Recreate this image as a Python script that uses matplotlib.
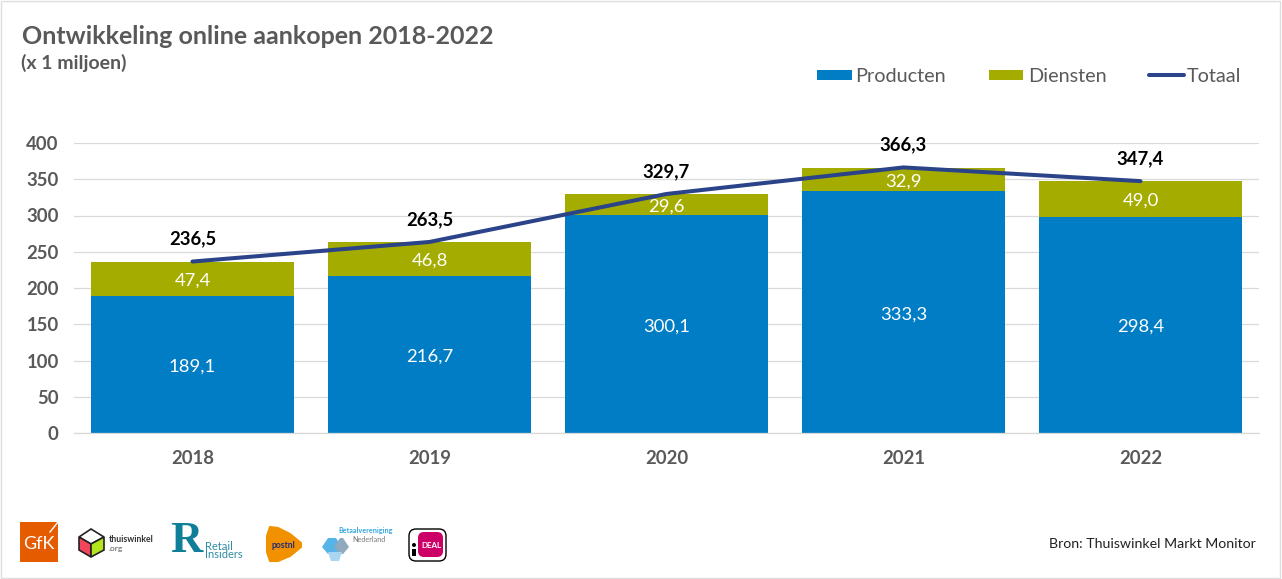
import numpy as np
import matplotlib
matplotlib.use("Agg")
import matplotlib.pyplot as plt
from matplotlib.patches import Rectangle, Polygon, FancyBboxPatch, Circle

plt.rcParams['font.family'] = ['Lato', 'DejaVu Sans']

# --- data ---
years = ['2018', '2019', '2020', '2021', '2022']
producten = [189.1, 216.7, 300.1, 333.3, 298.4]
diensten = [47.4, 46.8, 29.6, 32.9, 49.0]
totaal = [236.5, 263.5, 329.7, 366.3, 347.4]
y_ticks = [0, 50, 100, 150, 200, 250, 300, 350, 400]

W, H = 1282, 579
BLUE = '#007DC5'
GREEN = '#A5AC00'
NAVY = '#2B4388'
GREY = '#595959'


def fmt(v):
    return f'{v:.1f}'.replace('.', ',')


fig = plt.figure(figsize=(W / 100, H / 100), dpi=100, facecolor='white')

# overlay in pixel coordinates for title, legend, logos, frame
bg = fig.add_axes([0, 0, 1, 1])
bg.set_xlim(0, W)
bg.set_ylim(H, 0)
bg.axis('off')
bg.add_patch(Rectangle((0.5, 0.5), W - 2.5, H - 2, fc='none', ec='#DEDEDE', lw=1))

# --- main chart ---
ax = fig.add_axes([74 / W, 1 - 433 / H, (1259 - 74) / W, 290 / H])
x = np.arange(len(years))
bw = 0.857
ax.bar(x, producten, bw, color=BLUE, zorder=2)
ax.bar(x, diensten, bw, bottom=producten, color=GREEN, zorder=2)
ax.plot(x, totaal, color=NAVY, lw=2.9, solid_capstyle='round', solid_joinstyle='round', zorder=3)

for i in range(len(years)):
    ax.annotate(fmt(producten[i]), (x[i], producten[i] / 2), xytext=(0, -1.5), textcoords='offset points',
                ha='center', va='center', color='white', fontsize=13.3, zorder=4)
    ax.annotate(fmt(diensten[i]), (x[i], producten[i] + diensten[i] / 2), xytext=(0, -1.5),
                textcoords='offset points', ha='center', va='center', color='white', fontsize=13.3, zorder=4)
    ax.annotate(fmt(totaal[i]), (x[i], totaal[i]), xytext=(0, 10), textcoords='offset points',
                ha='center', va='bottom', color='black', fontsize=13.3, fontweight='bold', zorder=4)

ax.set_xlim(-0.5, 4.5)
ax.set_ylim(0, 400)
ax.set_yticks(y_ticks)
ax.set_xticks(x, years)
ax.grid(axis='y', color='#D9D9D9', lw=0.9, zorder=0)
ax.set_axisbelow(True)
for s in ['top', 'right', 'left']:
    ax.spines[s].set_visible(False)
ax.spines['bottom'].set_color('#D9D9D9')
ax.spines['bottom'].set_linewidth(0.9)
ax.tick_params(axis='both', length=0, labelcolor=GREY, labelsize=13.3)
ax.tick_params(axis='y', pad=11)
ax.tick_params(axis='x', pad=12)
for lab in ax.get_xticklabels() + ax.get_yticklabels():
    lab.set_fontweight('bold')
ax.patch.set_alpha(0)

# --- titles ---
bg.text(22, 37, 'Ontwikkeling online aankopen 2018-2022', fontsize=18.0, fontweight='bold',
        color=GREY, ha='left', va='center')
bg.text(21, 63, '(x 1 miljoen)', fontsize=14, fontweight='bold', color=GREY, ha='left', va='center')

# --- legend ---
bg.add_patch(Rectangle((817, 70), 35, 10, fc=BLUE, ec='none'))
bg.text(855, 76, 'Producten', fontsize=14.3, color=GREY, ha='left', va='center')
bg.add_patch(Rectangle((989, 70), 34, 10, fc=GREEN, ec='none'))
bg.text(1028, 76, 'Diensten', fontsize=14.3, color=GREY, ha='left', va='center')
bg.plot([1149, 1184], [75, 75], color=NAVY, lw=2.9, solid_capstyle='round')
bg.text(1187, 76, 'Totaal', fontsize=14.3, color=GREY, ha='left', va='center')

bg.text(1256, 544, 'Bron: Thuiswinkel Markt Monitor', fontsize=10.2, color='#222222', ha='right', va='center')

# --- logos (approximate) ---
# GfK
bg.add_patch(Rectangle((20, 522), 38, 40, fc='#E55C00', ec='none'))
bg.text(39, 544, 'GfK', color='white', fontsize=13, ha='center', va='center')
bg.plot([50, 58], [532, 522], color='white', lw=1)
# thuiswinkel cube
bg.add_patch(Polygon([(79, 537), (91, 529), (104, 537), (91, 544)], fc='white', ec='#222222', lw=1.2))
bg.add_patch(Polygon([(79, 537), (91, 544), (91, 557), (79, 550)], fc='#F0455A', ec='#222222', lw=1.2))
bg.add_patch(Polygon([(91, 544), (104, 537), (104, 550), (91, 557)], fc='#B5E61D', ec='#222222', lw=1.2))
bg.text(109, 539, 'thuiswinkel', color='#333333', fontsize=6.3, fontweight='bold', ha='left', va='center')
bg.text(109, 548, '.org', color='#555555', fontsize=6, ha='left', va='center')
# Retail Insiders
bg.text(186, 541, 'R', color='#0F7F99', fontsize=32, fontweight='bold', family='Liberation Serif',
        ha='center', va='center')
bg.text(205, 546, 'Retail', color='#2F8CA3', fontsize=8, ha='left', va='center')
bg.text(205, 555, 'Insiders', color='#2F8CA3', fontsize=8, ha='left', va='center')
# PostNL
bg.add_patch(Polygon([(270, 527), (278, 528), (290, 534), (301, 543), (301, 547), (290, 556),
                      (278, 561), (270, 561), (267, 552), (267, 536)], fc='#F29100', ec='#F29100',
                     lw=1.5, joinstyle='round'))
bg.text(283, 545, 'postnl', color='#1E2A78', fontsize=6.2, fontweight='bold', ha='center', va='center')
# Betaalvereniging
bg.text(338, 531, 'Betaalvereniging', color='#35A8E0', fontsize=5.2, fontweight='bold', ha='left', va='center')
bg.text(352, 539, 'Nederland', color='#777777', fontsize=5.2, ha='left', va='center')
bg.add_patch(Polygon([(322, 547), (328, 538), (336, 538), (342, 547), (336, 554), (328, 554)], fc='#56B4E9', ec='none'))
bg.add_patch(Polygon([(334, 547), (340, 538), (343, 538), (349, 547), (343, 554), (340, 554)], fc='#8FA9BD', ec='none'))
bg.add_patch(Polygon([(328, 552), (342, 552), (339, 561), (331, 561)], fc='#A8D5F0', ec='none'))
# iDEAL
bg.add_patch(FancyBboxPatch((409, 529), 37, 32, boxstyle='round,pad=0,rounding_size=7', fc='white', ec='black', lw=1))
bg.add_patch(FancyBboxPatch((418, 532), 25, 25, boxstyle='round,pad=0,rounding_size=6', fc='#CC0066', ec='none'))
bg.text(431, 545, 'DEAL', color='white', fontsize=5.8, fontweight='bold', ha='center', va='center')
bg.add_patch(Circle((414, 545), 2, fc='black', ec='none'))
bg.add_patch(Rectangle((412, 549), 4, 7, fc='black', ec='none'))

fig.savefig('out.png', dpi=100, facecolor='white')
